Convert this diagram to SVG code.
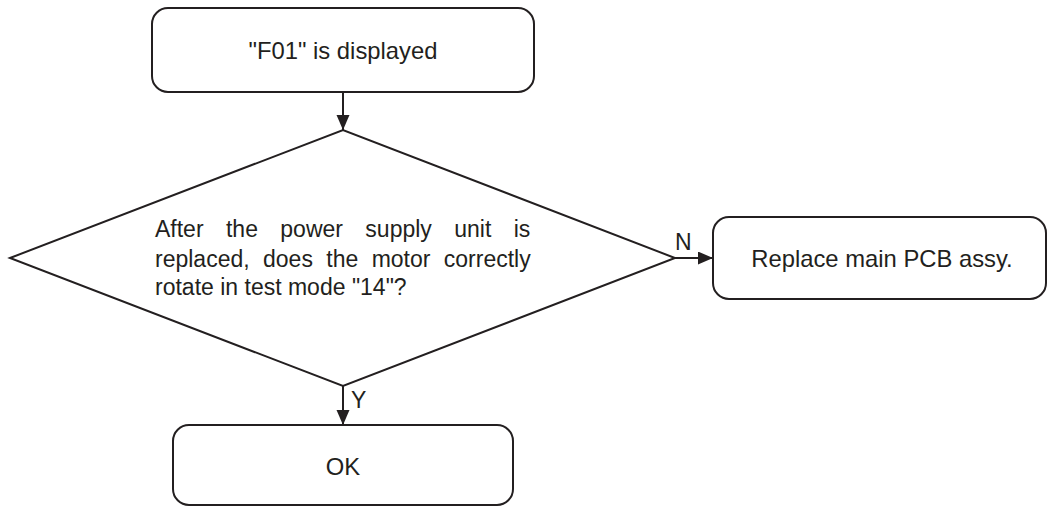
<svg xmlns="http://www.w3.org/2000/svg" width="1048" height="507" viewBox="0 0 1048 507">
<style>
.box{fill:#fff;stroke:#231f20;stroke-width:2}
.line{stroke:#231f20;stroke-width:2;fill:none}
text{font-family:"Liberation Sans",Arial,sans-serif;font-size:23px;fill:#231f20}
.c{text-anchor:middle;font-size:23.8px}
</style>
<defs>
<marker id="ah" markerWidth="16" markerHeight="14" refX="15" refY="6.5" orient="auto" markerUnits="userSpaceOnUse">
<path d="M0,0 L15,6.5 L0,13 Z" fill="#231f20"/>
</marker>
</defs>
<rect width="1048" height="507" fill="#fff"/>
<g id="connectors">
<line class="line" x1="343" y1="92" x2="343" y2="130" marker-end="url(#ah)"/>
<line class="line" x1="675" y1="258" x2="713" y2="258" marker-end="url(#ah)"/>
<line class="line" x1="343" y1="386" x2="343" y2="425" marker-end="url(#ah)"/>
<text x="675" y="250" font-size="22">N</text>
<text x="351" y="408" font-size="22">Y</text>
</g>
<g id="start">
<rect class="box" x="152" y="8" width="382" height="84" rx="16"/>
<text class="c" x="343" y="59">"F01" is displayed</text>
</g>
<g id="decision">
<polygon class="box" points="10,258 343,130 675,258 343,386"/>
<text x="155" y="236.5" word-spacing="16">After the power supply unit is</text>
<text x="155" y="266.5" word-spacing="7">replaced, does the motor correctly</text>
<text x="155" y="295">rotate in test mode "14"?</text>
</g>
<g id="replace">
<rect class="box" x="713" y="217" width="333" height="82" rx="16"/>
<text class="c" x="882" y="267">Replace main PCB assy.</text>
</g>
<g id="ok">
<rect class="box" x="173" y="425" width="340" height="80" rx="16"/>
<text class="c" x="343" y="475">OK</text>
</g>
</svg>
